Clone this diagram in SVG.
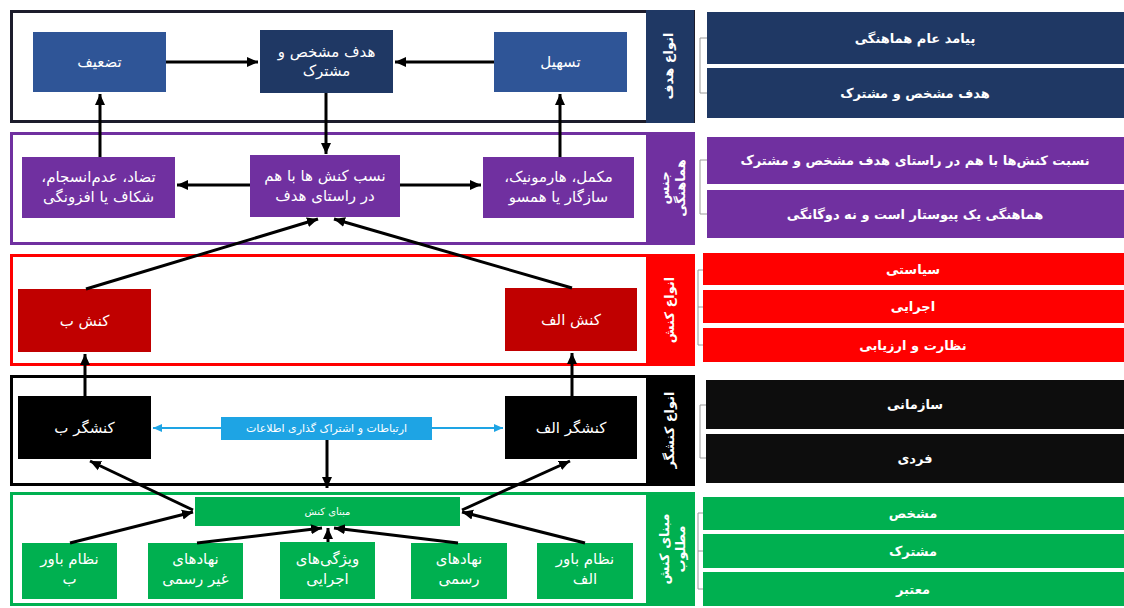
<svg xmlns="http://www.w3.org/2000/svg" width="1124" height="608" viewBox="0 0 1124 608">
<defs>
<marker id="ah" markerUnits="userSpaceOnUse" markerWidth="12" markerHeight="12" refX="11" refY="6" orient="auto"><path d="M0,1 L11,6 L0,11 z" fill="#000"/></marker>
<marker id="ahb" markerUnits="userSpaceOnUse" markerWidth="10" markerHeight="10" refX="9" refY="5" orient="auto"><path d="M0,1 L9,5 L0,9 z" fill="#1EA4E4"/></marker>
</defs>
<style>
text{font-family:"DejaVu Sans",sans-serif;fill:#fff;text-anchor:middle;direction:rtl}
.t{font-size:15px}
.r{font-size:13px;font-weight:bold}
.s{font-size:13px;font-weight:bold}
.c{stroke:#000;stroke-width:3;fill:none;marker-end:url(#ah)}
.cb{stroke:#1EA4E4;stroke-width:2;fill:none;marker-end:url(#ahb)}
.br{stroke:#9a9a9a;stroke-width:1;fill:none}
</style>

<!-- Bands -->
<g id="band-goal">
<rect x="11.5" y="11.5" width="682" height="110" fill="#fff" stroke="#1c1c2c" stroke-width="3"/>
<rect x="646" y="10" width="48" height="113" fill="#1F3864"/>
<text class="s" transform="translate(673,66) rotate(-90)">انواع هدف</text>
</g>
<g id="band-coord">
<rect x="11.5" y="133.5" width="682" height="110" fill="#fff" stroke="#7030A0" stroke-width="3"/>
<rect x="646" y="132" width="48" height="113" fill="#7030A0"/>
<text class="s" transform="translate(672,188) rotate(-90)"><tspan x="0" dy="-3">جنس</tspan><tspan x="0" dy="16">هماهنگی</tspan></text>
</g>
<g id="band-action">
<rect x="11.5" y="255.5" width="682" height="109" fill="#fff" stroke="#FF0000" stroke-width="3"/>
<rect x="646" y="254" width="48" height="112" fill="#FF0000"/>
<text class="s" transform="translate(674,310) rotate(-90)">انواع کنش</text>
</g>
<g id="band-actor">
<rect x="11.5" y="376.5" width="682" height="108" fill="#fff" stroke="#000" stroke-width="3"/>
<rect x="646" y="375" width="48" height="111" fill="#000"/>
<text class="s" transform="translate(674,430) rotate(-90)">انواع کنشگر</text>
</g>
<g id="band-basis">
<rect x="11.5" y="493.5" width="682" height="111" fill="#fff" stroke="#00B050" stroke-width="3"/>
<rect x="646" y="492" width="48" height="114" fill="#00B050"/>
<text class="s" transform="translate(672,549) rotate(-90)"><tspan x="0" dy="-3">مبنای کنش</tspan><tspan x="0" dy="16">مطلوب</tspan></text>
</g>

<!-- Goal band nodes -->
<g id="n-weaken"><rect x="33" y="32" width="133" height="60" fill="#2F5597"/><text class="t" x="99.5" y="67">تضعیف</text></g>
<g id="n-goal"><rect x="260" y="30" width="133" height="63" fill="#1F3864"/><text class="t" x="326.5" y="57"><tspan x="326.5">هدف مشخص و</tspan><tspan x="326.5" dy="19">مشترک</tspan></text></g>
<g id="n-facilitate"><rect x="494" y="32" width="133" height="60" fill="#2F5597"/><text class="t" x="560.5" y="67">تسهیل</text></g>

<!-- Coordination band nodes -->
<g id="n-conflict"><rect x="22" y="157" width="153" height="61" fill="#7030A0"/><text class="t" x="98.5" y="182"><tspan x="98.5">تضاد، عدم‌انسجام،</tspan><tspan x="98.5" dy="20">شکاف یا افزونگی</tspan></text></g>
<g id="n-relation"><rect x="250" y="155" width="150" height="62" fill="#7030A0"/><text class="t" x="325" y="181"><tspan x="325">نسب کنش ها با هم</tspan><tspan x="325" dy="20">در راستای هدف</tspan></text></g>
<g id="n-harmonic"><rect x="483" y="157" width="151" height="61" fill="#7030A0"/><text class="t" x="558.5" y="182"><tspan x="558.5">مکمل، هارمونیک،</tspan><tspan x="558.5" dy="20">سازگار یا همسو</tspan></text></g>

<!-- Action band nodes -->
<g id="n-action-b"><rect x="18" y="289" width="133" height="63" fill="#C00000"/><text class="t" x="84.5" y="326">کنش ب</text></g>
<g id="n-action-a"><rect x="505" y="288" width="132" height="63" fill="#C00000"/><text class="t" x="571" y="325">کنش الف</text></g>

<!-- Actor band nodes -->
<g id="n-actor-b"><rect x="18" y="396" width="133" height="63" fill="#000"/><text class="t" x="84.5" y="433">کنشگر ب</text></g>
<g id="n-actor-a"><rect x="505" y="396" width="132" height="63" fill="#000"/><text class="t" x="571" y="433">کنشگر الف</text></g>
<g id="n-info"><rect x="221" y="417" width="211" height="23" fill="#1EA4E4"/><text x="326.5" y="432" style="font-size:11px">ارتباطات و اشتراک گذاری اطلاعات</text></g>

<!-- Basis band nodes -->
<g id="n-basis"><rect x="195" y="497" width="265" height="29" fill="#00B050"/><text x="327.5" y="515" style="font-size:10px">مبنای کنش</text></g>
<g id="n-belief-b"><rect x="22" y="543" width="95" height="56" fill="#00B050"/><text class="t" x="69.5" y="564"><tspan x="69.5">نظام باور</tspan><tspan x="69.5" dy="20">ب</tspan></text></g>
<g id="n-informal"><rect x="148" y="543" width="95" height="56" fill="#00B050"/><text class="t" x="195.5" y="564"><tspan x="195.5">نهادهای</tspan><tspan x="195.5" dy="20">غیر رسمی</tspan></text></g>
<g id="n-exec"><rect x="280" y="542" width="95" height="57" fill="#00B050"/><text class="t" x="327.5" y="564"><tspan x="327.5">ویژگی‌های</tspan><tspan x="327.5" dy="20">اجرایی</tspan></text></g>
<g id="n-formal"><rect x="411" y="543" width="96" height="56" fill="#00B050"/><text class="t" x="459" y="564"><tspan x="459">نهادهای</tspan><tspan x="459" dy="20">رسمی</tspan></text></g>
<g id="n-belief-a"><rect x="537" y="543" width="96" height="56" fill="#00B050"/><text class="t" x="585" y="564"><tspan x="585">نظام باور</tspan><tspan x="585" dy="20">الف</tspan></text></g>

<!-- Right legend -->
<g id="legend-goal">
<path class="br" d="M707,38 H700 V93 H707"/>
<rect x="707" y="12" width="417" height="52" fill="#1F3864"/><text class="r" x="915" y="43">پیامد عام هماهنگی</text>
<rect x="707" y="68" width="417" height="50" fill="#1F3864"/><text class="r" x="915" y="98">هدف مشخص و مشترک</text>
</g>
<g id="legend-coord">
<path class="br" d="M707,160 H700 V214 H707"/>
<rect x="707" y="137" width="417" height="47" fill="#7030A0"/><text class="r" x="915" y="165">نسبت کنش‌ها با هم در راستای هدف مشخص و مشترک</text>
<rect x="707" y="190" width="417" height="48" fill="#7030A0"/><text class="r" x="915" y="219">هماهنگی یک پیوستار است و نه دوگانگی</text>
</g>
<g id="legend-action">
<path class="br" d="M703,270 H698 V345 H703 M698,307 H703"/>
<rect x="703" y="253" width="421" height="32" fill="#FF0000"/><text class="r" x="913" y="274">سیاستی</text>
<rect x="703" y="290" width="421" height="33" fill="#FF0000"/><text class="r" x="913" y="311">اجرایی</text>
<rect x="703" y="328" width="421" height="34" fill="#FF0000"/><text class="r" x="913" y="350">نظارت و ارزیابی</text>
</g>
<g id="legend-actor">
<path class="br" d="M706,405 H700 V458 H706"/>
<rect x="706" y="380" width="418" height="49" fill="#0D0D0D"/><text class="r" x="915" y="409">سازمانی</text>
<rect x="706" y="434" width="418" height="49" fill="#0D0D0D"/><text class="r" x="915" y="463">فردی</text>
</g>
<g id="legend-basis">
<path class="br" d="M703,513 H698 V589 H703 M698,551 H703"/>
<rect x="703" y="497" width="421" height="33" fill="#00B050"/><text class="r" x="913" y="518">مشخص</text>
<rect x="703" y="534" width="421" height="34" fill="#00B050"/><text class="r" x="913" y="556">مشترک</text>
<rect x="703" y="572" width="421" height="34" fill="#00B050"/><text class="r" x="913" y="594">معتبر</text>
</g>

<!-- Connectors -->
<g id="connectors">
<line class="c" x1="166" y1="62" x2="258" y2="62"/>
<line class="c" x1="494" y1="62" x2="395" y2="62"/>
<line class="c" x1="100" y1="157" x2="100" y2="94"/>
<line class="c" x1="560" y1="157" x2="560" y2="94"/>
<line class="c" x1="326" y1="93" x2="326" y2="154"/>
<line class="c" x1="250" y1="185" x2="177" y2="185"/>
<line class="c" x1="400" y1="185" x2="481" y2="185"/>
<line class="c" x1="86" y1="289" x2="318" y2="219"/>
<line class="c" x1="572" y1="288" x2="334" y2="219"/>
<line class="c" x1="85" y1="396" x2="85" y2="354"/>
<line class="c" x1="572" y1="396" x2="572" y2="353"/>
<line class="cb" x1="221" y1="428" x2="153" y2="428"/>
<line class="cb" x1="432" y1="428" x2="503" y2="428"/>
<line class="c" x1="327" y1="440" x2="327" y2="488"/>
<line class="c" x1="193" y1="510" x2="90" y2="461"/>
<line class="c" x1="462" y1="510" x2="570" y2="461"/>
<line class="c" x1="70" y1="543" x2="193" y2="512"/>
<line class="c" x1="585" y1="543" x2="462" y2="512"/>
<line class="c" x1="197" y1="543" x2="322" y2="528"/>
<line class="c" x1="328" y1="542" x2="328" y2="528"/>
<line class="c" x1="458" y1="543" x2="334" y2="528"/>
</g>
</svg>
